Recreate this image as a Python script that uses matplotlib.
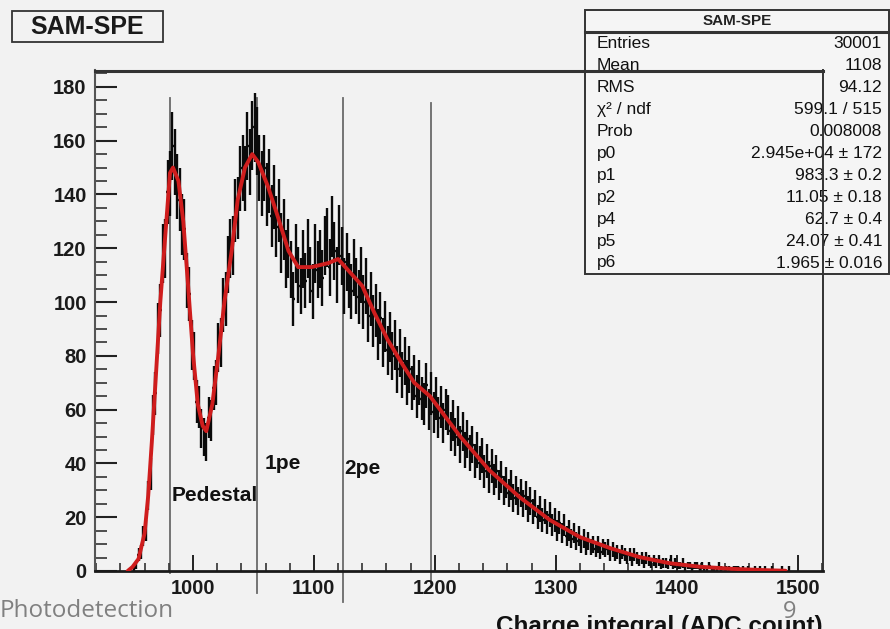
import numpy as np
import matplotlib
matplotlib.use("Agg")
import matplotlib.pyplot as plt
from matplotlib.patches import Rectangle
from matplotlib.lines import Line2D
from matplotlib.ticker import MultipleLocator

# ---------------- data ----------------
bin_start = 950
bin_width = 2
counts = [
    1, 2, 6, 7, 13, 15, 28, 36, 58, 66,
    90, 97, 118, 120, 141, 144, 158, 152, 143, 138,
    129, 127, 108, 103, 84, 80, 63, 61, 53, 50,
    48, 57, 56, 68, 70, 83, 85, 99, 101, 114,
    120, 121, 134, 135, 146, 150, 146, 158, 152, 162,
    165, 160, 150, 144, 150, 140, 145, 132, 139, 128,
    134, 122, 127, 116, 120, 112, 101, 118, 110, 106,
    116, 108, 120, 110, 104, 118, 112, 116, 109, 121,
    124, 113, 128, 119, 110, 125, 117, 106, 115, 108,
    104, 113, 106, 102, 110, 100, 106, 95, 101, 93,
    97, 88, 94, 85, 91, 82, 87, 80, 84, 75,
    81, 73, 78, 70, 75, 68, 72, 65, 70, 64,
    62, 69, 60, 66, 59, 64, 57, 61, 55, 60,
    58, 52, 56, 50, 54, 47, 52, 45, 49, 44,
    47, 41, 45, 40, 43, 37, 41, 35, 39, 34,
    37, 32, 35, 30, 33, 29, 32, 27, 30, 26,
    29, 25, 28, 23, 26, 22, 25, 20, 23, 19,
    22, 18, 21, 17, 19, 15, 18, 14, 17, 13,
    15, 12, 14, 11, 13, 10, 12, 9, 11, 9,
    10, 8, 10, 7, 9, 8, 9, 6, 8, 6,
    7, 5, 7, 6, 5, 6, 4, 6, 5, 4,
    5, 3, 5, 4, 3, 4, 3, 4, 2, 3,
    3, 2, 4, 2, 3, 2, 2, 3, 1, 2,
    2, 1, 2, 2, 1, 2, 1, 1, 2, 1,
    1, 1, 2, 1, 0, 1, 1, 0, 1, 1,
    1, 0, 1, 0, 1, 0, 0, 1, 0, 1,
    0, 1, 0, 0, 1, 0, 0, 0, 1, 0,
    0, 1, 0, 0, 0,
]

fit_x = [946, 950, 955, 960, 963, 966, 969, 973, 977, 981, 983.5, 988, 992,
         996, 1000, 1004, 1008, 1011, 1016, 1021, 1026, 1032, 1037, 1043,
         1049, 1054, 1062, 1070, 1079, 1087, 1098, 1112, 1120, 1128, 1140,
         1150, 1161, 1173, 1183, 1196, 1221, 1245, 1270, 1295, 1320, 1345,
         1369, 1394, 1419, 1446, 1474, 1490]
fit_y = [0, 1.5, 4.5, 14, 28, 48, 70, 100, 124, 148, 150, 145, 130,
         106, 81, 62, 54, 52, 62, 80, 100, 119, 138, 150,
         155, 152, 143, 132, 119, 113, 113, 114.5, 116, 112, 106,
         96, 86, 77, 70, 65, 50, 37.5, 27.5, 19, 12.6, 8.5,
         5.2, 2.9, 1.6, 0.8, 0.3, 0.1]

marker_x = [981, 1053, 1124, 1197]
marker_top = [176, 176, 176, 174]
marker_bottom = [-0.7, -8, -11.5, -4.5]

labels_text = ["Pedestal", "1pe", "2pe"]
labels_x = [982, 1059, 1125]
labels_y = [28, 40, 38]

stats_title = "SAM-SPE"
stats_names = ["Entries", "Mean", "RMS", "\u03c7\u00b2 / ndf", "Prob",
               "p0", "p1", "p2", "p4", "p5", "p6"]
stats_values = ["30001", "1108", "94.12", "599.1 / 515", "0.008008",
                "2.945e+04 \u00b1 172", "983.3 \u00b1 0.2", "11.05 \u00b1 0.18",
                "62.7 \u00b1 0.4", "24.07 \u00b1 0.41", "1.965 \u00b1 0.016"]

xlabel = "Charge integral (ADC count)"
footer = "Photodetection"
page = "9"

# ---------------- figure ----------------
W, H = 890, 629
BG = "#f2f2f2"
plt.rcParams['font.family'] = ['Liberation Sans', 'DejaVu Sans']
fig = plt.figure(figsize=(W / 100, H / 100), dpi=100, facecolor=BG)


def fx(x):
    return x / W


def fy(y):
    return 1 - y / H


L, R, T, B = 95, 823, 70.5, 571
ax = fig.add_axes([fx(L), fy(B), fx(R) - fx(L), fy(T) - fy(B)])
ax.set_facecolor("none")
ax.set_xlim(919, 1521)
ax.set_ylim(0, 186.1)

counts = np.array(counts, dtype=float)
centers = bin_start + bin_width * (np.arange(len(counts)) + 0.5)
m = counts > 0
ax.errorbar(centers[m], counts[m], yerr=np.sqrt(counts[m]), xerr=bin_width / 2,
            fmt='none', ecolor='#0a0a0a', elinewidth=1.7, capsize=0, zorder=2)

ax.plot(fit_x, fit_y, color='#cf1d1d', lw=2.8, zorder=3, solid_capstyle='round')

for x, t, b in zip(marker_x, marker_top, marker_bottom):
    ax.plot([x, x], [b, t], color='#6a6a6a', lw=1.3, zorder=1, clip_on=False)

for s, x, y in zip(labels_text, labels_x, labels_y):
    ax.text(x, y, s, fontsize=15, fontweight='bold', color='#111111',
            ha='left', va='center', zorder=4)

# ticks
ax.xaxis.set_major_locator(MultipleLocator(100))
ax.xaxis.set_minor_locator(MultipleLocator(20))
ax.yaxis.set_major_locator(MultipleLocator(20))
ax.yaxis.set_minor_locator(MultipleLocator(5))
ax.tick_params(axis='x', which='major', direction='in', length=11.5, width=1.4,
               color='#222222', pad=6, labelsize=14.5)
ax.tick_params(axis='x', which='minor', direction='in', length=5.5, width=1.2,
               color='#333333')
ax.tick_params(axis='y', which='major', direction='in', length=15.5, width=1.5,
               color='#222222', pad=6, labelsize=14.5)
ax.tick_params(axis='y', which='minor', direction='in', length=8.5, width=1.2,
               color='#333333')
for lab in ax.get_xticklabels() + ax.get_yticklabels():
    lab.set_fontweight('bold')
    lab.set_color('#1a1a1a')

ax.spines['top'].set_linewidth(2.2)
ax.spines['top'].set_color('#333333')
ax.spines['right'].set_linewidth(1.4)
ax.spines['right'].set_color('#333333')
ax.spines['left'].set_linewidth(1.5)
ax.spines['left'].set_color('#555555')
ax.spines['bottom'].set_linewidth(2.0)
ax.spines['bottom'].set_color('#1a1a1a')

# title box (top left)
fig.add_artist(Rectangle((fx(12), fy(42)), fx(163) - fx(12), fy(11) - fy(42),
                         transform=fig.transFigure, facecolor=BG,
                         edgecolor='#333333', lw=1.3, zorder=-1))
fig.text(fx(87.5), fy(27), stats_title, fontsize=18, fontweight='bold',
         color='#1a1a1a', ha='center', va='center', zorder=-1)

# stats box (top right)
sx0, sx1, sy0, sy1 = 585, 889, 10, 274
fig.add_artist(Rectangle((fx(sx0), fy(sy1)), fx(sx1) - fx(sx0), fy(sy0) - fy(sy1),
                         transform=fig.transFigure, facecolor='#f5f5f5',
                         edgecolor='#333333', lw=1.4, zorder=-2))
fig.add_artist(Line2D([fx(sx0), fx(sx1)], [fy(32), fy(32)], transform=fig.transFigure,
                      color='#333333', lw=2.2, zorder=-1))
fig.text(fx(737), fy(21), stats_title, fontsize=11, fontweight='bold',
         color='#222222', ha='center', va='center', zorder=-1)
row0, dy = 44, 21.9
for i, (n, v) in enumerate(zip(stats_names, stats_values)):
    yy = row0 + i * dy
    fig.text(fx(597), fy(yy), n, fontsize=12.5, color='#111111',
             ha='left', va='center', zorder=-1)
    fig.text(fx(882), fy(yy), v, fontsize=12.5, color='#111111',
             ha='right', va='center', zorder=-1)

# bottom texts
fig.text(fx(R), fy(615), xlabel, fontsize=17.5, fontweight='bold', color='#111111',
         ha='right', va='top')
fig.text(fx(0), fy(611), footer, fontsize=17.5, color='#808080',
         ha='left', va='center', family=['Open Sans', 'DejaVu Sans'])
fig.text(fx(790), fy(612), page, fontsize=17, color='#808080',
         ha='center', va='center', family=['Open Sans', 'DejaVu Sans'])

fig.savefig("out.png", dpi=100, facecolor=BG)
